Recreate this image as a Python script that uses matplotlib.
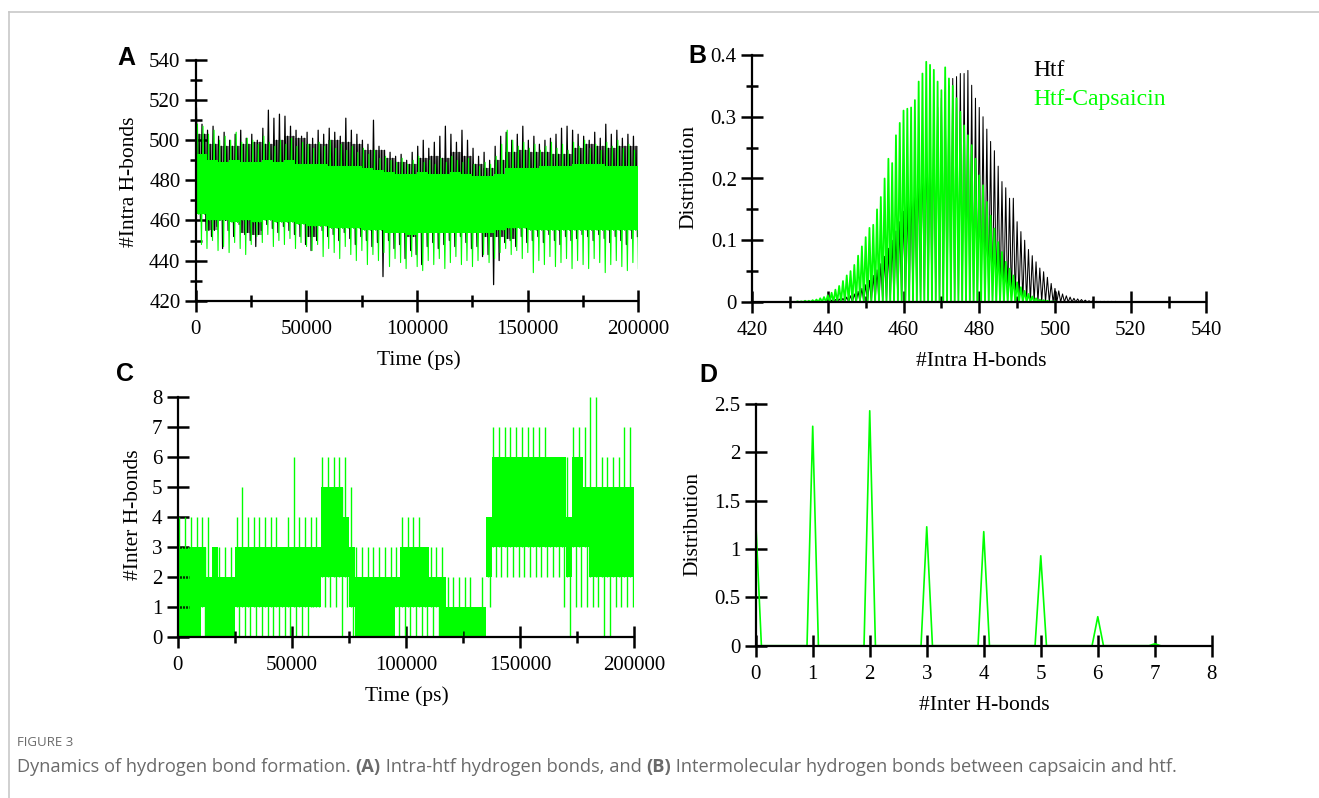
import numpy as np
import matplotlib
matplotlib.use("Agg")
import matplotlib.pyplot as plt
from matplotlib.ticker import MultipleLocator, FuncFormatter

# ---------------- data ----------------
# Panel A: intra H-bonds time series, summarised per time bin
core_t = np.arange(0, 200000, 5000)            # ps, start of 5 ns bins (dense band)
cap_core_hi = [493, 490, 489, 490, 489, 489, 490, 489, 490, 488, 488, 488, 487, 487, 487, 486, 485, 484, 483, 483,
               484, 483, 483, 484, 483, 482, 482, 483, 486, 486, 486, 487, 487, 487, 488, 488, 488, 487, 487, 487]
cap_core_lo = [463, 460, 460, 459, 460, 459, 460, 459, 459, 458, 457, 457, 456, 456, 456, 455, 455, 454, 454, 453,
               454, 454, 454, 454, 454, 454, 454, 455, 456, 456, 455, 455, 455, 455, 455, 455, 455, 455, 455, 455]
htf_core_hi = [503, 498, 497, 497, 498, 499, 498, 500, 502, 501, 498, 498, 500, 499, 498, 495, 495, 491, 489, 488,
               491, 492, 491, 494, 492, 488, 486, 490, 494, 495, 494, 494, 493, 493, 496, 498, 497, 496, 497, 497]
htf_core_lo = [466, 455, 460, 462, 454, 453, 463, 463, 463, 462, 452, 461, 462, 462, 461, 462, 461, 458, 458, 452,
               459, 460, 461, 461, 461, 459, 452, 452, 451, 462, 464, 463, 463, 463, 463, 464, 464, 464, 464, 464]

time_bin = np.arange(1250, 200000, 2500)        # ps, centre of 2.5 ns bins (extremes)
cap_max = [508, 507, 503, 505, 500, 502, 500, 504, 499, 501, 500, 498, 502, 499, 497, 500, 498, 501, 497, 499,
           498, 496, 499, 497, 500, 496, 498, 495, 497, 494, 496, 493, 495, 491, 492, 490, 489, 491, 488, 490,
           492, 489, 490, 488, 491, 489, 492, 490, 489, 491, 488, 487, 489, 488, 492, 498, 505, 500, 497, 499,
           496, 498, 495, 497, 499, 496, 498, 495, 499, 497, 500, 496, 498, 495, 499, 497, 500, 496, 498, 495]
cap_min = [448, 446, 450, 445, 447, 444, 449, 446, 443, 448, 452, 449, 453, 447, 450, 448, 451, 446, 449, 447,
           445, 448, 442, 446, 444, 441, 447, 443, 440, 445, 438, 443, 440, 444, 437, 441, 439, 436, 442, 437,
           435, 440, 438, 441, 436, 439, 442, 438, 440, 437, 440, 443, 439, 441, 444, 446, 443, 445, 441, 444,
           434, 440, 438, 442, 437, 439, 441, 436, 440, 438, 436, 441, 439, 434, 438, 440, 437, 435, 439, 436]
htf_max = [516, 508, 505, 507, 502, 504, 500, 503, 505, 501, 503, 500, 506, 515, 511, 513, 512, 507, 505, 502,
           504, 501, 505, 503, 506, 504, 502, 511, 505, 503, 500, 498, 510, 497, 495, 494, 492, 493, 490, 494,
           497, 500, 496, 499, 502, 507, 503, 499, 505, 500, 496, 492, 494, 490, 497, 502, 504, 500, 503, 507,
           500, 502, 498, 500, 501, 503, 506, 507, 505, 503, 502, 500, 504, 501, 508, 503, 505, 501, 503, 502]
htf_min = [460, 455, 452, 457, 446, 455, 452, 458, 453, 450, 447, 455, 458, 456, 454, 457, 455, 453, 452, 448,
           445, 450, 455, 452, 453, 450, 454, 451, 448, 452, 450, 447, 449, 432, 450, 446, 448, 441, 445, 443,
           438, 447, 449, 446, 448, 450, 447, 452, 449, 446, 447, 442, 443, 428, 440, 449, 450, 447, 452, 449,
           450, 452, 449, 453, 450, 448, 452, 450, 451, 453, 452, 450, 453, 451, 449, 452, 450, 448, 451, 452]

# Panel B: distribution of intra H-bonds
htf_n = np.arange(440, 517)
htf_dist = [0.002, 0.003, 0.004, 0.005, 0.006, 0.008, 0.010, 0.013, 0.017, 0.022, 0.028, 0.035, 0.043, 0.052,
            0.062, 0.074, 0.087, 0.100, 0.115, 0.130, 0.147, 0.165, 0.185, 0.205, 0.225, 0.245, 0.265, 0.285,
            0.300, 0.315, 0.330, 0.340, 0.350, 0.362, 0.365, 0.370, 0.370, 0.375, 0.351, 0.330, 0.315, 0.300,
            0.280, 0.260, 0.245, 0.220, 0.195, 0.185, 0.168, 0.168, 0.130, 0.114, 0.100, 0.085, 0.075, 0.065,
            0.055, 0.049, 0.040, 0.030, 0.022, 0.018, 0.013, 0.010, 0.008, 0.006, 0.005, 0.004, 0.003, 0.002,
            0.002, 0.001, 0.001, 0.001, 0.001, 0.001, 0.001]
cap_n = np.arange(432, 501)
cap_dist = [0.001, 0.001, 0.002, 0.002, 0.003, 0.004, 0.006, 0.008, 0.011, 0.015, 0.020, 0.026, 0.034, 0.043,
            0.050, 0.060, 0.075, 0.090, 0.105, 0.120, 0.125, 0.150, 0.170, 0.200, 0.232, 0.225, 0.270, 0.290,
            0.310, 0.313, 0.315, 0.327, 0.357, 0.370, 0.389, 0.384, 0.376, 0.357, 0.343, 0.380, 0.362, 0.350,
            0.330, 0.308, 0.286, 0.270, 0.254, 0.232, 0.205, 0.189, 0.162, 0.140, 0.119, 0.097, 0.081, 0.065,
            0.054, 0.043, 0.032, 0.024, 0.018, 0.013, 0.009, 0.006, 0.004, 0.003, 0.002, 0.001, 0.001]

# Panel C: inter H-bonds per 2.5 ns bin (dense band and extremes)
inter_t = np.arange(0, 200000, 2500)
inter_lo = [0, 0, 0, 0, 1, 0, 0, 0, 0, 0, 1, 1, 1, 1, 1, 1, 1, 1, 1, 1, 1, 1, 1, 1, 1, 2, 2, 2, 2, 2, 1, 0, 0, 0, 0,
            0, 0, 0, 1, 1, 1, 1, 1, 1, 1, 1, 0, 0, 0, 0, 0, 0, 0, 0, 2, 3, 3, 3, 3, 3, 3, 3, 3, 3, 3, 3, 3, 3, 2, 3,
            3, 3, 2, 2, 2, 2, 2, 2, 2, 2]
inter_hi = [3, 3, 3, 3, 3, 2, 3, 2, 2, 2, 3, 3, 3, 3, 3, 3, 3, 3, 3, 3, 3, 3, 3, 3, 3, 5, 5, 5, 5, 4, 3, 2, 2, 2, 2,
            2, 2, 2, 2, 3, 3, 3, 3, 3, 2, 2, 2, 1, 1, 1, 1, 1, 1, 1, 4, 6, 6, 6, 6, 6, 6, 6, 6, 6, 6, 6, 6, 6, 4, 6,
            6, 5, 5, 5, 5, 5, 5, 5, 5, 5]
inter_min = [0, 0, 0, 0, 0, 0, 0, 0, 0, 0, 0, 0, 0, 0, 0, 0, 0, 0, 0, 0, 0, 0, 0, 1, 1, 1, 1, 1, 0, 1, 0, 0, 0, 0, 0,
             0, 0, 0, 0, 0, 0, 0, 0, 0, 0, 0, 0, 0, 0, 0, 0, 0, 0, 0, 1, 2, 2, 2, 2, 2, 2, 2, 2, 2, 2, 2, 2, 1, 0, 1,
             1, 1, 1, 1, 0, 0, 1, 1, 1, 1]
inter_max = [4, 4, 4, 4, 4, 4, 3, 3, 3, 3, 4, 5, 4, 4, 4, 4, 4, 4, 3, 4, 6, 4, 4, 4, 4, 6, 6, 6, 6, 6, 5, 3, 3, 3, 3,
             3, 3, 3, 3, 4, 4, 4, 4, 3, 3, 3, 3, 2, 2, 2, 2, 2, 1, 2, 4, 7, 7, 7, 7, 7, 7, 7, 7, 7, 7, 6, 6, 6, 6, 7,
             7, 7, 8, 8, 6, 6, 6, 6, 7, 7]

# Panel D: distribution of inter H-bonds
inter_levels = [0, 1, 2, 3, 4, 5, 6, 7]
inter_dist = [1.30, 2.27, 2.43, 1.23, 1.18, 0.93, 0.30, 0.02]

caption_parts = [("Dynamics of hydrogen bond formation. ", "normal"), ("(A)", "bold"),
                 (" Intra-htf hydrogen bonds, and ", "normal"), ("(B)", "bold"),
                 (" Intermolecular hydrogen bonds between capsaicin and htf.", "normal")]

# ---------------- style ----------------
W, H = 1319, 798
GREEN = "#00ff00"
SERIF = "Liberation Serif"
CAPFONT = "Open Sans"

fig = plt.figure(figsize=(W / 100, H / 100), dpi=100)
renderer = fig.canvas.get_renderer()


def axes_px(left, top, right, bottom):
    return fig.add_axes([left / W, 1 - bottom / H, (right - left) / W, (bottom - top) / H])


def ftext(x, y, s, **kw):
    return fig.text(x / W, 1 - y / H, s, **kw)


def style(ax, fmt):
    for side in ("top", "right"):
        ax.spines[side].set_visible(False)
    for side in ("left", "bottom"):
        ax.spines[side].set_linewidth(1.6)
        ax.spines[side].set_zorder(5)
    ax.tick_params(which="major", direction="inout", length=16, width=1.8, labelsize=15, pad=3)
    ax.tick_params(which="minor", direction="inout", length=9, width=1.8)
    ax.tick_params(axis="x", which="major", pad=6)
    for lab in ax.get_xticklabels() + ax.get_yticklabels():
        lab.set_fontfamily(SERIF)
    ax.xaxis.set_major_formatter(FuncFormatter(fmt))
    ax.yaxis.set_major_formatter(FuncFormatter(lambda v, p: "%g" % round(v, 3)))
    ax.patch.set_alpha(0)


intfmt = lambda v, p: "%d" % round(v)

# ---------- Panel A ----------
axA = axes_px(195.7, 60, 638.2, 300.7)


def noise_path(mx, lo, hi, mn, shift):
    t = time_bin + shift
    xs = np.column_stack([t - 900, t - 300, t + 300, t + 900]).ravel()
    ys = np.column_stack([mx, np.repeat(lo, 2), np.repeat(hi, 2), mn]).ravel()
    return xs, ys


ct = np.append(core_t, 200000)
axA.fill_between(ct, htf_core_lo + [htf_core_lo[-1]], htf_core_hi + [htf_core_hi[-1]],
                 step="post", color="black", alpha=0.45, lw=0, zorder=1.5)
hx, hy = noise_path(htf_max, htf_core_lo, htf_core_hi, htf_min, 0)
axA.plot(hx, hy, color="black", lw=0.9, zorder=2)
axA.fill_between(ct, cap_core_lo + [cap_core_lo[-1]], cap_core_hi + [cap_core_hi[-1]],
                 step="post", color=GREEN, lw=0, zorder=3)
cx, cy = noise_path(cap_max, cap_core_lo, cap_core_hi, cap_min, 450)
axA.plot(cx, cy, color=GREEN, lw=0.8, zorder=4)
axA.set_xlim(0, 200000)
axA.set_ylim(420, 540)
axA.xaxis.set_major_locator(MultipleLocator(50000))
axA.xaxis.set_minor_locator(MultipleLocator(25000))
axA.yaxis.set_major_locator(MultipleLocator(20))
axA.yaxis.set_minor_locator(MultipleLocator(10))
style(axA, intfmt)

# ---------- Panel B ----------
axB = axes_px(752.1, 55, 1206.4, 302)


def saw(ns, vals, half):
    xs, ys = [], []
    for n, v in zip(ns, vals):
        xs += [n - half, n, n + half]
        ys += [0, v, 0]
    return xs, ys


bx, by = saw(htf_n, htf_dist, 0.5)
axB.plot(bx, by, color="black", lw=0.75)
gx, gy = saw(cap_n, cap_dist, 0.5)
axB.plot(gx, gy, color=GREEN, lw=1.3)
axB.set_xlim(420, 540)
axB.set_ylim(0, 0.4)
axB.xaxis.set_major_locator(MultipleLocator(20))
axB.xaxis.set_minor_locator(MultipleLocator(10))
axB.yaxis.set_major_locator(MultipleLocator(0.1))
axB.yaxis.set_minor_locator(MultipleLocator(0.05))
style(axB, intfmt)
ftext(1033, 71, "Htf", family=SERIF, fontsize=17, color="black", va="center", ha="left")
ftext(1033, 100, "Htf-Capsaicin", family=SERIF, fontsize=17, color=GREEN, va="center", ha="left")

# ---------- Panel C ----------
axC = axes_px(177.9, 396.7, 634.3, 637)
tt = np.append(inter_t, 200000)
axC.fill_between(tt, inter_lo + [inter_lo[-1]], inter_hi + [inter_hi[-1]], step="post", color=GREEN, lw=0)
axC.vlines(inter_t + 700, inter_lo, inter_max, color=GREEN, lw=1.0)
axC.vlines(inter_t + 1800, inter_min, inter_hi, color=GREEN, lw=1.0)
axC.set_xlim(0, 200000)
axC.set_ylim(0, 8)
axC.xaxis.set_major_locator(MultipleLocator(50000))
axC.xaxis.set_minor_locator(MultipleLocator(25000))
axC.yaxis.set_major_locator(MultipleLocator(1))
style(axC, intfmt)

# ---------- Panel D ----------
axD = axes_px(755.7, 404, 1211.8, 645.7)
dx, dy = saw(inter_levels, inter_dist, 0.1)
axD.plot(dx, dy, color=GREEN, lw=1.2)
axD.set_xlim(0, 8)
axD.set_ylim(0, 2.5)
axD.xaxis.set_major_locator(MultipleLocator(1))
axD.yaxis.set_major_locator(MultipleLocator(0.5))
style(axD, intfmt)

# ---------- labels ----------
lab = dict(family=SERIF, fontsize=15.5, ha="center", va="center")
ftext(129, 182, "#Intra H-bonds", rotation=90, **lab)
ftext(419, 360, "Time (ps)", **lab)
ftext(689, 177, "Distribution", rotation=90, **lab)
ftext(981, 362, "#Intra H-bonds", **lab)
ftext(133, 515, "#Inter H-bonds", rotation=90, **lab)
ftext(407, 696, "Time (ps)", **lab)
ftext(693, 524, "Distribution", rotation=90, **lab)
ftext(984, 705, "#Inter H-bonds", **lab)

pl = dict(family="Liberation Sans", fontsize=18, fontweight="bold", ha="center", va="center")
ftext(126, 58, "A", **pl)
ftext(697, 56, "B", **pl)
ftext(125, 374, "C", **pl)
ftext(708, 375, "D", **pl)

# ---------- caption & frame ----------
GREY = "#6a6a6a"
ftext(17, 743, "FIGURE 3", family=CAPFONT, fontsize=9.5, color=GREY, ha="left", va="center")


def caption_width(size):
    total = 0
    for s, w in caption_parts:
        t = ftext(0, 767, s, family=CAPFONT, fontweight=w, fontsize=size)
        total += t.get_window_extent(renderer).width
        t.remove()
    return total


size = 12.0
size = size * 1155 / caption_width(size)
size = max(11.0, min(size, 13.5))
xcur = 17
for s, w in caption_parts:
    t = ftext(xcur, 767, s, family=CAPFONT, fontweight=w, fontsize=size, color=GREY, ha="left", va="center")
    xcur += t.get_window_extent(renderer).width

fig.add_artist(plt.Line2D([9 / W, 9 / W], [0, 1 - 11.5 / H], color="#c8c8c8", lw=1.2))
fig.add_artist(plt.Line2D([9 / W, 1], [1 - 11.5 / H, 1 - 11.5 / H], color="#c8c8c8", lw=1.2))

fig.savefig("out.png", dpi=100)
